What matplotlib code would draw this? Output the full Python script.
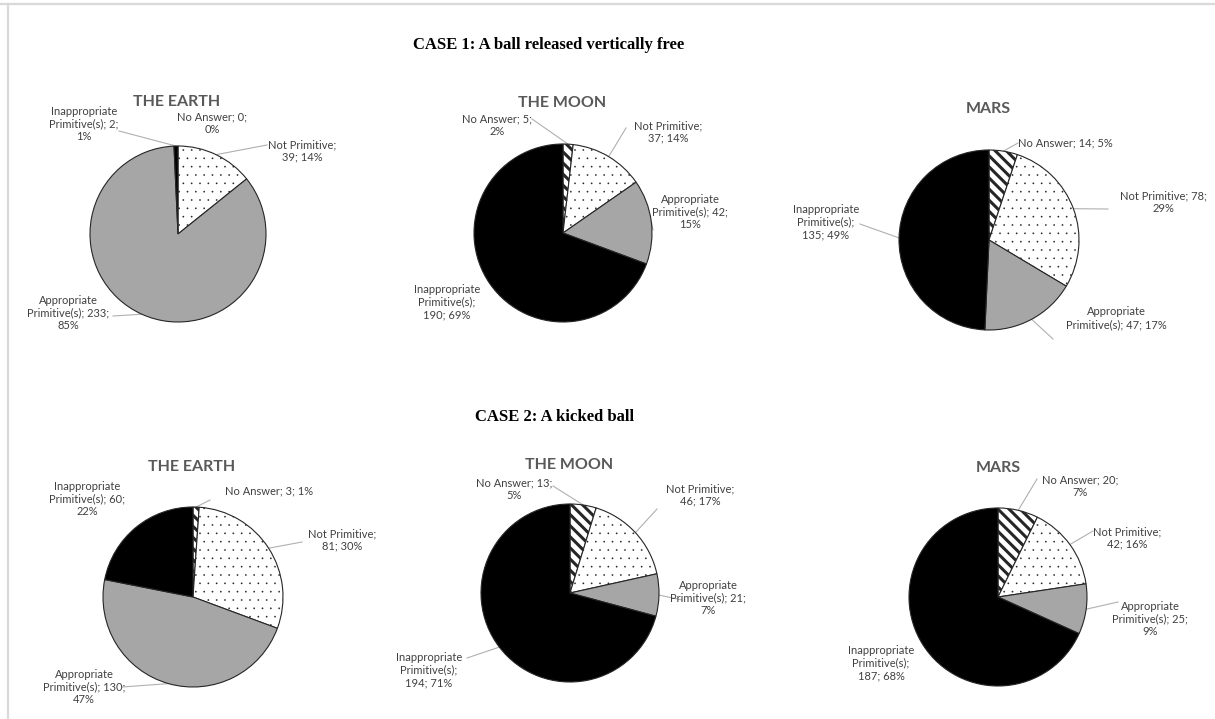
import textwrap
import numpy as np
import matplotlib
matplotlib.use("Agg")
import matplotlib.pyplot as plt
from matplotlib.lines import Line2D

W, H = 1215, 719

categories = ["No Answer", "Not Primitive", "Appropriate Primitive(s)", "Inappropriate Primitive(s)"]
bodies = ["THE EARTH", "THE MOON", "MARS"]
case_titles = ["CASE 1: A ball released vertically free", "CASE 2: A kicked ball"]

# answers per category (order as in categories), one row per body
case1_counts = [[0, 39, 233, 2], [5, 37, 42, 190], [14, 78, 47, 135]]
case1_pct = [[0, 14, 85, 1], [2, 14, 15, 69], [5, 29, 17, 49]]
case2_counts = [[3, 81, 130, 60], [13, 46, 21, 194], [20, 42, 25, 187]]
case2_pct = [[1, 30, 47, 22], [5, 17, 7, 71], [7, 16, 9, 68]]

# pixel layout: pie centre + radius, body title spot
pie_geom = [(178, 234, 88), (563, 233, 89), (989, 240, 90),
            (193, 597, 90), (570, 593, 89), (998, 597, 89)]
title_pos = [(177, 102), (562, 103), (988, 109),
             (192, 467), (569, 465), (998, 468)]
case_pos = [(549, 45), (555, 417)]

# per label: text centre, leader start (or None), wrap width
label_layout = [
    [(212, 123, None, None, 13), (302, 151, 267, 145, 14), (68, 313, 113, 316, 18), (84, 124, 119, 131, 16)],
    [(497, 125, 532, 119, 13), (668, 132, 626, 128, 14), (690, 212, 653, 230, 17), (447, 302, None, None, 13)],
    [(1065, 143, 1018, 143, 30), (1163, 202, 1108, 209, 18), (1116, 318, 1053, 339, 21), (826, 222, 860, 224, 13)],
    [(269, 491, 210, 500, 20), (342, 540, 302, 542, 14), (84, 687, 122, 687, 18), (87, 499, None, None, 17)],
    [(514, 489, 553, 486, 14), (700, 495, 657, 509, 14), (708, 598, 682, 600, 17), (429, 670, 467, 658, 13)],
    [(1080, 486, 1037, 479, 14), (1127, 538, 1093, 531, 14), (1150, 619, 1118, 602, 17), (881, 663, None, None, 13)],
]

fills = ["white", "white", "#a6a6a6", "black"]
hatches = ["\\\\\\", "..", None, None]
hatch_lw = [2.2, 0.05, None, None]

counts = case1_counts + case2_counts
pcts = case1_pct + case2_pct

fig = plt.figure(figsize=(W / 100, H / 100), dpi=100)
fig.patch.set_facecolor("white")

# thin grey frame (top and left)
fig.add_artist(Line2D([0, 1], [1 - 3.5 / H] * 2, transform=fig.transFigure, color="#d9d9d9", lw=1.6))
fig.add_artist(Line2D([8 / W] * 2, [0, 1 - 3.5 / H], transform=fig.transFigure, color="#d9d9d9", lw=1.6))

for (x, y), t in zip(case_pos, case_titles):
    fig.text(x / W, 1 - y / H, t, ha="center", va="center", fontsize=12,
             family="Liberation Serif", weight="bold", color="black")

for i in range(6):
    cx, cy, r = pie_geom[i]
    ax = fig.add_axes([(cx - r) / W, 1 - (cy + r) / H, 2 * r / W, 2 * r / H])
    wedges, _ = ax.pie(counts[i], colors=fills, startangle=90, counterclock=False,
                       wedgeprops=dict(edgecolor="#262626", linewidth=0.8))
    ax.set_xlim(-1, 1)
    ax.set_ylim(-1, 1)
    ax.axis("off")
    for w, h, hl in zip(wedges, hatches, hatch_lw):
        if h:
            w.set_hatch(h)
            if hasattr(w, "set_hatch_linewidth"):
                w.set_hatch_linewidth(hl)

    tx, ty = title_pos[i]
    fig.text(tx / W, 1 - ty / H, bodies[i % 3], ha="center", va="center",
             fontsize=11.5, family="Lato", weight="bold", color="#595959")

    for w, name, n, p, (lx, ly, sx, sy, wrap) in zip(wedges, categories, counts[i], pcts[i], label_layout[i]):
        text = textwrap.fill(f"{name}; {n}; {p}%", wrap)
        ax.text((lx - cx) / r, (cy - ly) / r, text, ha="center", va="center",
                fontsize=8, family="Lato", color="#404040", linespacing=1.2, clip_on=False)
        if sx is not None:
            mid = np.deg2rad((w.theta1 + w.theta2) / 2)
            ax.plot([(sx - cx) / r, np.cos(mid)], [(cy - sy) / r, np.sin(mid)],
                    color="#b0b0b0", lw=0.8, clip_on=False, zorder=0)

fig.savefig("out.png", dpi=100)
